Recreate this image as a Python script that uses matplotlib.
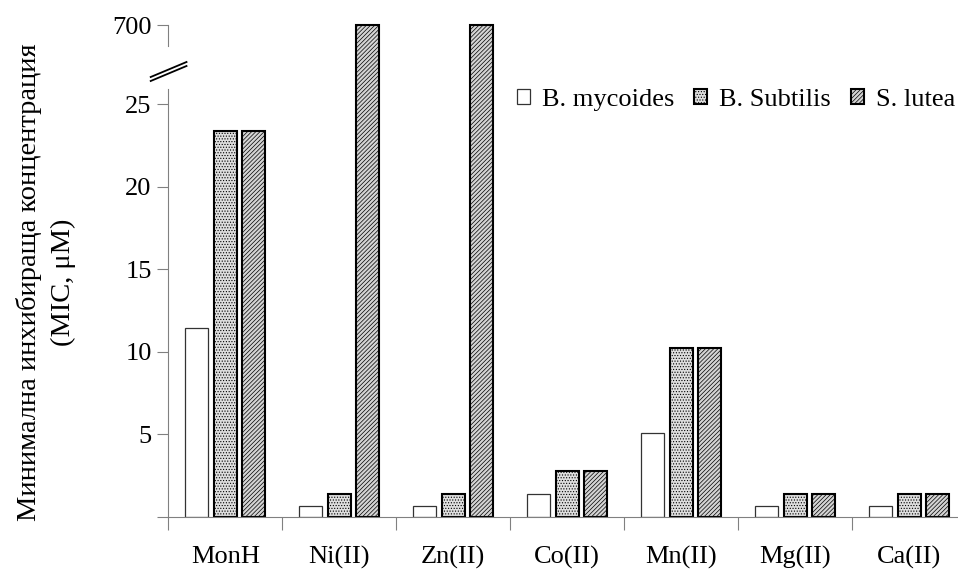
import numpy as np
import matplotlib
matplotlib.use("Agg")
import matplotlib.pyplot as plt

categories = ["MonH", "Ni(II)", "Zn(II)", "Co(II)", "Mn(II)", "Mg(II)", "Ca(II)"]
series_names = ["B. mycoides", "B. Subtilis", "S. lutea"]
b_mycoides = [11.45, 0.65, 0.65, 1.4, 5.1, 0.65, 0.65]
b_subtilis = [23.4, 1.4, 1.4, 2.8, 10.2, 1.4, 1.4]
s_lutea = [23.4, 700, 700, 2.8, 10.2, 1.4, 1.4]
y_ticks = [0, 5, 10, 15, 20, 25, 700]
y_tick_labels = ["", "5", "10", "15", "20", "25", "700"]

plt.rcParams['font.family'] = ['Liberation Serif', 'DejaVu Serif']
plt.rcParams['font.size'] = 19
plt.rcParams['hatch.linewidth'] = 0.5

## broken axis: linear up to 26, then compressed
brk = 26.0
k = 3.8 / 674.0

def fwd(v):
    v = np.asarray(v, dtype=float)
    return np.where(v <= brk, v, brk + (v - brk) * k)

def inv(u):
    u = np.asarray(u, dtype=float)
    return np.where(u <= brk, u, brk + (u - brk) / k)

W, H = 958, 576
px = 16.5  # pixels per unit below the break
ytop = 720
ax_h = float(fwd(ytop)) * px
fig = plt.figure(figsize=(W / 100, H / 100), dpi=100)
ax = fig.add_axes([168.3 / W, 1 - 516.7 / H, 798 / W, ax_h / H])
ax.set_yscale('function', functions=(fwd, inv))

x = np.arange(len(categories)) + 0.5
bw = 0.2
off = 0.25
ax.bar(x - off, b_mycoides, bw, facecolor='white', edgecolor='#333333', linewidth=0.9, label=series_names[0])
ax.bar(x, b_subtilis, bw, facecolor='#dedede', edgecolor='black', linewidth=1.5, hatch='......', label=series_names[1])
ax.bar(x + off, s_lutea, bw, facecolor='#d4d4d4', edgecolor='black', linewidth=1.5, hatch='////////', label=series_names[2])

ax.set_xlim(0, len(categories))
ax.set_ylim(0, ytop)

gray = '#808080'
for s in ['top', 'right']:
    ax.spines[s].set_visible(False)
ax.spines['left'].set_color(gray)
ax.spines['bottom'].set_color(gray)
ax.spines['left'].set_bounds(0, 25.9)
## upper piece of y axis
ax.plot([0, 0], [float(inv(28.5)), 700], color=gray, linewidth=0.8,
        transform=ax.get_yaxis_transform(), clip_on=False)

## break marks
for dy in (0, 4):
    xs = np.array([150.7, 186.5])
    ys = np.array([77.0, 62.0]) + dy
    ax.plot((xs - 168.3) / 798, (516.7 - ys) / ax_h, color='black', linewidth=1.3,
            transform=ax.transAxes, clip_on=False)

ax.set_yticks(y_ticks)
ax.set_yticklabels(y_tick_labels)
ax.yaxis.set_minor_locator(matplotlib.ticker.NullLocator())
ax.tick_params(axis='y', which='major', direction='out', length=8, color=gray, pad=4)

ax.set_xticks(np.arange(len(categories) + 1))
ax.set_xticklabels([])
ax.set_xticks(x, minor=True)
ax.set_xticklabels(categories, minor=True)
ax.tick_params(axis='x', which='major', direction='out', length=9, color=gray)
ax.tick_params(axis='x', which='minor', length=0, pad=21)

fig.text(29 / W, 1 - 282 / H, "Минимална инхибираща концентрация", rotation=90,
         ha='center', va='center', fontsize=20.5)
fig.text(63 / W, 1 - 282 / H, "(MIC, μM)", rotation=90, ha='center', va='center', fontsize=20.5)

ax.legend(loc='center left', bbox_to_anchor=(517 / W, 1 - 100 / H), bbox_transform=fig.transFigure,
          ncol=3, frameon=False, handlelength=0.5, handleheight=0.5, handletextpad=0.45,
          columnspacing=0.75, borderpad=0, borderaxespad=0)

fig.savefig("out.png", dpi=100)
